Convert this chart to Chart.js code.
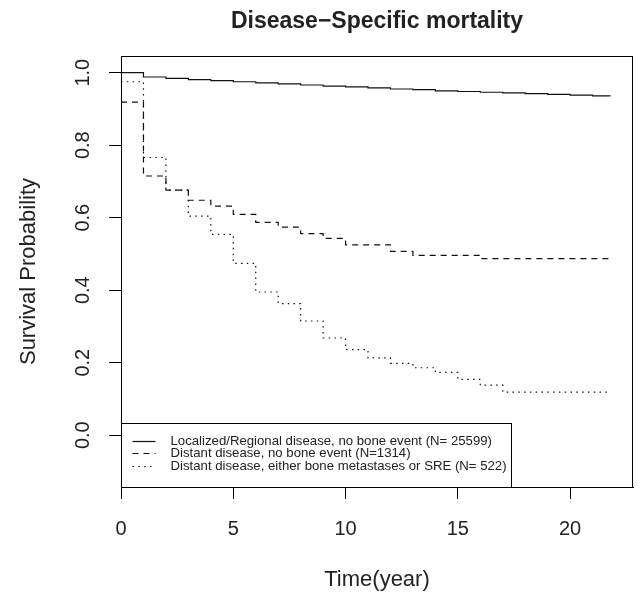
<!DOCTYPE html>
<html lang="en">
  <head>
    <meta charset="UTF-8" />
    <title>Disease-Specific mortality</title>
    <script src="https://cdn.jsdelivr.net/npm/chart.js"></script>
    <style>
      body { margin: 0; background: #fff; }
      .chart-box { width: 642px; height: 597px; }
    </style>
  </head>
  <body>
    <div class="chart-box"><canvas id="survivalChart"></canvas></div>

    <script>
      // step times (years), last entry is the end of follow-up
      var years = [0, 1, 2, 3, 4, 5, 6, 7, 8, 9, 10, 11, 12, 13, 14, 15, 16, 17, 18, 19, 20, 21, 21.8];

      var localized = [1.0, 0.988, 0.984, 0.981, 0.978, 0.975, 0.972, 0.969, 0.966, 0.963, 0.961,
        0.958, 0.955, 0.953, 0.95, 0.948, 0.946, 0.944, 0.942, 0.94, 0.938, 0.936, 0.936];
      var distantNoBone = [0.919, 0.715, 0.676, 0.648, 0.632, 0.609, 0.587, 0.574, 0.556, 0.543, 0.525,
        0.525, 0.507, 0.496, 0.496, 0.496, 0.487, 0.487, 0.487, 0.487, 0.487, 0.487, 0.487];
      var distantBone = [0.975, 0.766, 0.676, 0.604, 0.554, 0.474, 0.395, 0.363, 0.315, 0.268, 0.236,
        0.213, 0.198, 0.186, 0.173, 0.154, 0.138, 0.119, 0.119, 0.119, 0.119, 0.119, 0.119];

      var seriesLabels = [
        "Localized/Regional disease, no bone event (N= 25599)",
        "Distant disease, no bone event (N=1314)",
        "Distant disease, either bone metastases or SRE (N= 522)",
      ];
      var xTicks = [0, 5, 10, 15, 20];
      var yTicks = [0, 0.2, 0.4, 0.6, 0.8, 1.0];

      function toPoints(values) {
        return years.map(function (t, i) {
          return { x: t, y: values[i] };
        });
      }

      var lineColor = "#111";
      var textColor = "#222";
      var fontFamily = "'Liberation Sans', Arial, sans-serif";

      // black frame round the plot region, like R's box()
      var frame = {
        id: "frame",
        afterDraw: function (chart) {
          var a = chart.chartArea;
          var ctx = chart.ctx;
          ctx.save();
          ctx.strokeStyle = "#000";
          ctx.lineWidth = 1;
          ctx.strokeRect(Math.round(a.left) + 0.5, Math.round(a.top) + 0.5,
            Math.round(a.right - a.left) - 1, Math.round(a.bottom - a.top));
          ctx.restore();
        },
      };

      // bottom-left boxed legend
      var boxLegend = {
        id: "boxLegend",
        afterDraw: function (chart) {
          var a = chart.chartArea;
          var ctx = chart.ctx;
          var left = Math.round(a.left) + 0.5;
          var bottom = Math.round(a.bottom) + 0.5;
          var top = bottom - 64;
          var right = left + 390;
          ctx.save();
          ctx.fillStyle = "#fff";
          ctx.fillRect(left, top, right - left, bottom - top);
          ctx.strokeStyle = "#000";
          ctx.lineWidth = 1;
          ctx.strokeRect(left, top, right - left, bottom - top);
          ctx.font = "13.2px " + fontFamily;
          ctx.textBaseline = "middle";
          ctx.fillStyle = textColor;
          chart.data.datasets.forEach(function (ds, i) {
            var y = Math.round(top + 17 + i * 12.5) + 0.5;
            ctx.beginPath();
            ctx.setLineDash(ds.borderDash || []);
            ctx.strokeStyle = lineColor;
            ctx.lineWidth = 1.2;
            ctx.moveTo(left + 11, y);
            ctx.lineTo(left + 34, y);
            ctx.stroke();
            ctx.setLineDash([]);
            ctx.fillText(ds.label, left + 49, y);
          });
          ctx.restore();
        },
      };

      var ctx = document.getElementById("survivalChart").getContext("2d");
      var survivalChart = new Chart(ctx, {
        type: "line",
        data: {
          datasets: [
            {
              label: seriesLabels[0],
              data: toPoints(localized),
              borderColor: lineColor,
              borderWidth: 1.2,
              stepped: true,
              pointRadius: 0,
              fill: false,
            },
            {
              label: seriesLabels[1],
              data: toPoints(distantNoBone),
              borderColor: lineColor,
              borderWidth: 1.2,
              borderDash: [6, 5],
              stepped: true,
              pointRadius: 0,
              fill: false,
            },
            {
              label: seriesLabels[2],
              data: toPoints(distantBone),
              borderColor: lineColor,
              borderWidth: 1.2,
              borderDash: [1.5, 4.3],
              stepped: true,
              pointRadius: 0,
              fill: false,
            },
          ],
        },
        options: {
          responsive: true,
          maintainAspectRatio: false,
          animation: false,
          layout: {
            padding: { top: 0, right: 9, bottom: 0, left: 0 },
          },
          plugins: {
            legend: { display: false },
            tooltip: { enabled: false },
            title: {
              display: true,
              text: "Disease\u2212Specific mortality",
              fullSize: false,
              color: textColor,
              font: { family: fontFamily, size: 23, weight: "bold" },
              padding: { top: 8, bottom: 20.4 },
            },
          },
          scales: {
            x: {
              type: "linear",
              min: 0,
              max: 22.8,
              afterBuildTicks: function (axis) {
                axis.ticks = xTicks.map(function (v) { return { value: v }; });
              },
              afterFit: function (scale) {
                scale.height = 110;
              },
              ticks: {
                autoSkip: false,
                maxRotation: 0,
                padding: 18,
                color: textColor,
                font: { family: fontFamily, size: 20 },
              },
              grid: {
                display: true,
                drawOnChartArea: false,
                tickLength: 12,
                color: "#000",
              },
              border: { display: true, color: "#000" },
              title: {
                display: true,
                text: "Time(year)",
                color: textColor,
                font: { family: fontFamily, size: 22 },
                padding: { top: 0, bottom: 4 },
              },
            },
            y: {
              min: -0.143,
              max: 1.046,
              afterBuildTicks: function (axis) {
                axis.ticks = yTicks.map(function (v) { return { value: v }; });
              },
              afterFit: function (scale) {
                scale.width = 121;
              },
              ticks: {
                minRotation: 90,
                maxRotation: 90,
                crossAlign: "center",
                padding: 12,
                color: textColor,
                font: { family: fontFamily, size: 20 },
                callback: function (value) {
                  return value.toFixed(1);
                },
              },
              grid: {
                display: true,
                drawOnChartArea: false,
                tickLength: 12,
                color: "#000",
              },
              border: { display: true, color: "#000" },
              title: {
                display: true,
                text: "Survival Probability",
                color: textColor,
                font: { family: fontFamily, size: 22 },
                padding: { top: 16, bottom: 0 },
              },
            },
          },
        },
        plugins: [frame, boxLegend],
      });
    </script>
  </body>
</html>
